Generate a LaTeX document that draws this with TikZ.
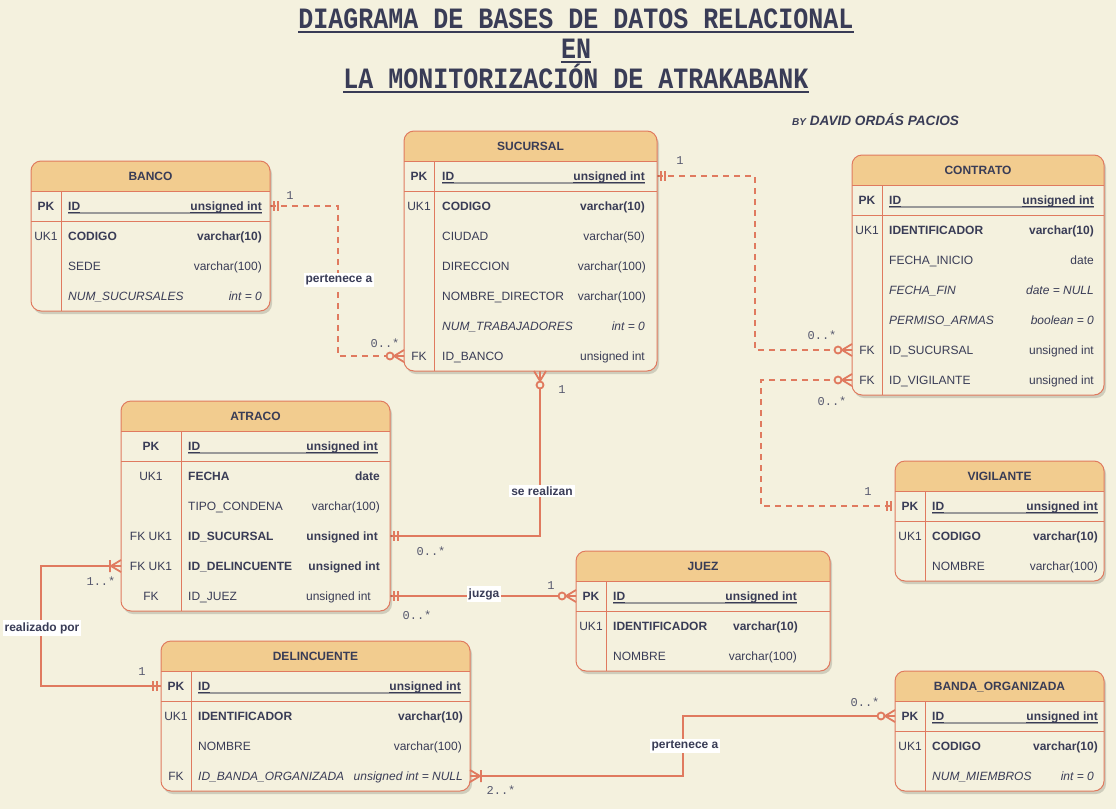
\documentclass[tikz,border=0pt]{standalone}
\usepackage{fontspec}
\setmainfont{Liberation Sans}
\newfontfamily\monof{Liberation Mono}
\usetikzlibrary{calc}
\definecolor{bgc}{HTML}{F4F1DE}
\definecolor{hdrc}{HTML}{F2CC8F}
\definecolor{lc}{HTML}{E07A5F}
\definecolor{txtc}{HTML}{393C56}
\newcommand\rtf{\fontsize{12}{14}\selectfont}
\newcommand\tallt[1]{\scalebox{1}[1.18]{#1}}
\tikzset{
  rt/.style={inner sep=0pt, text=txtc, font=\rtf},
  tline/.style={draw=lc, line width=1pt},
  hdrtext/.style={inner sep=0pt, text=txtc, font=\rtf\bfseries, anchor=base},
  ulgray/.style={draw=gray!80, line width=1.3pt},
  uldark/.style={draw=txtc, line width=0.8pt},
  conn/.style={draw=lc, line width=2pt},
  dconn/.style={conn, dash pattern=on 6pt off 5pt},
  mk/.style={draw=lc, line width=1.8pt},
  elab/.style={fill=white, text=txtc, font=\rtf\bfseries, inner xsep=2pt, inner ysep=2pt},
  card/.style={inner sep=0pt, text=txtc!85, font=\monof\fontsize{12}{14}\selectfont},
  titlet/.style={inner sep=0pt, text=txtc, font=\monof\bfseries\fontsize{25}{30}\selectfont, anchor=base},
}
% table frame: #1 id, #2 L, #3 T, #4 R, #5 rows, #6 divider x, #7 title
\newcommand\ertable[7]{%
  \pgfmathsetmacro\erB{#3+30+30*#5}
  \fill[black, opacity=0.15, rounded corners=10pt] (#2+2,#3+3) rectangle (#4+2,\erB+3);
  \fill[bgc, rounded corners=10pt] (#2,#3) rectangle (#4,\erB);
  \begin{scope}
    \clip[rounded corners=10pt] (#2,#3) rectangle (#4,\erB);
    \fill[hdrc] (#2,#3) rectangle (#4,#3+30);
  \end{scope}
  \draw[tline, rounded corners=10pt] (#2,#3) rectangle (#4,\erB);
  \draw[tline] (#2,#3+30) -- (#4,#3+30);
  \draw[tline] (#2,#3+60) -- (#4,#3+60);
  \draw[tline] (#6,#3+30) -- (#6,\erB);
  \node[hdrtext] (#1) at ({(#2+#4)/2},#3+19.5) {#7};
}
% PK row: #1 id, #2 y, #3 key x, #4 name x, #5 type right x, #6 type
\newcommand\erpk[6]{%
  \node[rt, font=\rtf\bfseries, anchor=base] (#1-k) at (#3,#2+4.5) {PK};
  \node[rt, font=\rtf\bfseries, anchor=base west] (#1-n) at (#4,#2+4.5) {ID};
  \node[rt, font=\rtf\bfseries, anchor=base east] (#1-t) at (#5,#2+4.5) {#6};
  \draw[ulgray] ([yshift=-2.5pt]#1-n.base west) -- ([yshift=-2.5pt]#1-t.base east);
  \draw[uldark] ([yshift=-1.8pt]#1-n.base west) -- ([yshift=-1.8pt]#1-n.base east);
  \draw[uldark] ([yshift=-1.8pt]#1-t.base west) -- ([yshift=-1.8pt]#1-t.base east);
}
% row: #1 id, #2 y, #3 key x, #4 key, #5 name x, #6 name, #7 type right x, #8 type, #9 style
\newcommand\errow[9]{%
  \node[rt, anchor=base] (#1-k) at (#3,#2+4.5) {#4};
  \node[rt, font=\rtf#9, anchor=base west] (#1-n) at (#5,#2+4.5) {#6};
  \node[rt, font=\rtf#9, anchor=base east] (#1-t) at (#7,#2+4.5) {#8};
}
\newcommand\mkOne[2]{\begin{scope}[shift={(#1)},rotate=#2]\draw[mk] (4,-5)--(4,5) (8,-5)--(8,5);\end{scope}}
\newcommand\mkZeroMany[2]{\begin{scope}[shift={(#1)},rotate=#2]\draw[mk] (0,-6)--(10,0)--(0,6) (0,0)--(10,0); \filldraw[mk,fill=bgc] (14,0) circle (3.5);\end{scope}}
\newcommand\mkOneMany[2]{\begin{scope}[shift={(#1)},rotate=#2]\draw[mk] (0,-6)--(10,0)--(0,6) (0,0)--(10,0) (11,-6)--(11,6);\end{scope}}

\begin{document}
\begin{tikzpicture}[x=1pt, y=-1pt]
\fill[bgc] (0,0) rectangle (1116,809);
\useasboundingbox (0,0) rectangle (1116,809);

% ---------- title ----------
\node[titlet] (t1) at (576,28) {\tallt{DIAGRAMA DE BASES DE DATOS RELACIONAL}};
\node[titlet] (t2) at (576,58) {\tallt{EN}};
\node[titlet] (t3) at (576,88) {\tallt{LA MONITORIZACIÓN DE ATRAKABANK}};
\foreach \t in {t1,t2,t3}{
  \draw[txtc, line width=2pt] ([yshift=-4pt]\t.base west) -- ([yshift=-4pt]\t.base east);
}
\node[inner sep=0pt, text=txtc, font=\fontsize{13.6}{15}\selectfont\bfseries\itshape, anchor=base west] (author) at (792,125.5) {{\fontsize{10}{11}\selectfont BY} DAVID ORDÁS PACIOS};

% ---------- connection points ----------
\coordinate (banco-pk-e) at (270,206);
\coordinate (suc-fk-w) at (404,356);
\coordinate (suc-pk-e) at (657,176);
\coordinate (con-fk1-w) at (852,350);
\coordinate (con-fk2-w) at (852,380);
\coordinate (vig-pk-w) at (895,506);
\coordinate (suc-bot) at (540,371);
\coordinate (atr-suc-e) at (390,536);
\coordinate (atr-juez-e) at (390,596);
\coordinate (juez-pk-w) at (576,596);
\coordinate (atr-del-w) at (121,566);
\coordinate (del-pk-w) at (161,686);
\coordinate (del-banda-e) at (470,776);
\coordinate (banda-pk-w) at (895,716);

% ---------- connectors ----------
\draw[dconn] (banco-pk-e) -- ++(68,0) |- (suc-fk-w);
\draw[dconn] (suc-pk-e) -- ++(98,0) |- (con-fk1-w);
\draw[dconn] (con-fk2-w) -- ++(-91,0) |- (vig-pk-w);
\draw[conn] (suc-bot) |- (atr-suc-e);
\draw[conn] (atr-juez-e) -- (juez-pk-w);
\draw[conn] (atr-del-w) -- ++(-80,0) |- (del-pk-w);
\draw[conn] (del-banda-e) -- ++(213,0) |- (banda-pk-w);

% ---------- BANCO ----------
\ertable{banco}{31}{161}{270}{4}{61}{BANCO}
\erpk{banco-r0}{206}{46}{68}{262}{unsigned int}
\errow{banco-r1}{236}{46}{UK1}{68}{CODIGO}{262}{varchar(10)}{\bfseries}
\errow{banco-r2}{266}{46}{}{68}{SEDE}{262}{varchar(100)}{}
\errow{banco-r3}{296}{46}{}{68}{NUM\_SUCURSALES}{262}{int = 0}{\itshape}

% ---------- SUCURSAL ----------
\ertable{sucursal}{404}{131}{657}{7}{434}{SUCURSAL}
\erpk{suc-r0}{176}{419}{442}{645}{unsigned int}
\errow{suc-r1}{206}{419}{UK1}{442}{CODIGO}{645}{varchar(10)}{\bfseries}
\errow{suc-r2}{236}{419}{}{442}{CIUDAD}{645}{varchar(50)}{}
\errow{suc-r3}{266}{419}{}{442}{DIRECCION}{646}{varchar(100)}{}
\errow{suc-r4}{296}{419}{}{442}{NOMBRE\_DIRECTOR}{646}{varchar(100)}{}
\errow{suc-r5}{326}{419}{}{442}{NUM\_TRABAJADORES}{645}{int = 0}{\itshape}
\errow{suc-r6}{356}{419}{FK}{442}{ID\_BANCO}{645}{unsigned int}{}

% ---------- CONTRATO ----------
\ertable{contrato}{852}{155}{1104}{7}{882}{CONTRATO}
\erpk{con-r0}{200}{867}{889}{1094}{unsigned int}
\errow{con-r1}{230}{867}{UK1}{889}{IDENTIFICADOR}{1094}{varchar(10)}{\bfseries}
\errow{con-r2}{260}{867}{}{889}{FECHA\_INICIO}{1094}{date}{}
\errow{con-r3}{290}{867}{}{889}{FECHA\_FIN}{1094}{date = NULL}{\itshape}
\errow{con-r4}{320}{867}{}{889}{PERMISO\_ARMAS}{1094}{boolean = 0}{\itshape}
\errow{con-r5}{350}{867}{FK}{889}{ID\_SUCURSAL}{1094}{unsigned int}{}
\errow{con-r6}{380}{867}{FK}{889}{ID\_VIGILANTE}{1094}{unsigned int}{}

% ---------- ATRACO ----------
\ertable{atraco}{121}{401}{390}{6}{181}{ATRACO}
\erpk{atr-r0}{446}{151}{188}{378}{unsigned int}
\errow{atr-r1}{476}{151}{UK1}{188}{FECHA}{380}{date}{\bfseries}
\errow{atr-r2}{506}{151}{}{188}{TIPO\_CONDENA}{380}{varchar(100)}{}
\errow{atr-r3}{536}{151}{FK UK1}{188}{ID\_SUCURSAL}{378}{unsigned int}{\bfseries}
\errow{atr-r4}{566}{151}{FK UK1}{188}{ID\_DELINCUENTE}{380}{unsigned int}{\bfseries}
\errow{atr-r5}{596}{151}{FK}{188}{ID\_JUEZ}{371}{unsigned int}{}

% ---------- VIGILANTE ----------
\ertable{vigilante}{895}{461}{1104}{3}{925}{VIGILANTE}
\erpk{vig-r0}{506}{910}{932}{1098}{unsigned int}
\errow{vig-r1}{536}{910}{UK1}{932}{CODIGO}{1098}{varchar(10)}{\bfseries}
\errow{vig-r2}{566}{910}{}{932}{NOMBRE}{1098}{varchar(100)}{}

% ---------- JUEZ ----------
\ertable{juez}{576}{551}{830}{3}{606}{JUEZ}
\erpk{juez-r0}{596}{591}{613}{797}{unsigned int}
\errow{juez-r1}{626}{591}{UK1}{613}{IDENTIFICADOR}{798}{varchar(10)}{\bfseries}
\errow{juez-r2}{656}{591}{}{613}{NOMBRE}{797}{varchar(100)}{}

% ---------- DELINCUENTE ----------
\ertable{delincuente}{161}{641}{470}{4}{191}{DELINCUENTE}
\erpk{del-r0}{686}{176}{198}{461}{unsigned int}
\errow{del-r1}{716}{176}{UK1}{198}{IDENTIFICADOR}{463}{varchar(10)}{\bfseries}
\errow{del-r2}{746}{176}{}{198}{NOMBRE}{462}{varchar(100)}{}
\errow{del-r3}{776}{176}{FK}{198}{ID\_BANDA\_ORGANIZADA}{463}{unsigned int = NULL}{\itshape}

% ---------- BANDA_ORGANIZADA ----------
\ertable{banda}{895}{671}{1104}{3}{925}{BANDA\_ORGANIZADA}
\erpk{banda-r0}{716}{910}{932}{1098}{unsigned int}
\errow{banda-r1}{746}{910}{UK1}{932}{CODIGO}{1098}{varchar(10)}{\bfseries}
\errow{banda-r2}{776}{910}{}{932}{NUM\_MIEMBROS}{1094}{int = 0}{\itshape}

% ---------- markers ----------
\mkOne{banco-pk-e}{0}
\mkZeroMany{suc-fk-w}{180}
\mkOne{suc-pk-e}{0}
\mkZeroMany{con-fk1-w}{180}
\mkZeroMany{con-fk2-w}{180}
\mkOne{vig-pk-w}{180}
\mkZeroMany{suc-bot}{-90}
\mkOne{atr-suc-e}{0}
\mkOne{atr-juez-e}{0}
\mkZeroMany{juez-pk-w}{180}
\mkOneMany{atr-del-w}{180}
\mkOne{del-pk-w}{180}
\mkOneMany{del-banda-e}{0}
\mkZeroMany{banda-pk-w}{180}

% ---------- relation labels ----------
\node[elab] (lab-pert1) at (339,280) {pertenece a};
\node[elab] (lab-real) at (542,491) {se realizan};
\node[elab] (lab-juzga) at (484,594) {juzga};
\node[elab] (lab-realpor) at (42,628) {realizado por};
\node[elab] (lab-pert2) at (685,746) {pertenece a};

% ---------- cardinalities ----------
\node[card] (k1) at (290,196) {1};
\node[card] (k2) at (385,343) {0..*};
\node[card] (k3) at (680,161) {1};
\node[card] (k4) at (822,335) {0..*};
\node[card] (k5) at (832,401) {0..*};
\node[card] (k6) at (868,492) {1};
\node[card] (k7) at (562,390) {1};
\node[card] (k8) at (431,551) {0..*};
\node[card] (k9) at (417,615) {0..*};
\node[card] (k10) at (551,586) {1};
\node[card] (k11) at (101,581) {1..*};
\node[card] (k12) at (142,672) {1};
\node[card] (k13) at (501,790) {2..*};
\node[card] (k14) at (865,702) {0..*};
\end{tikzpicture}
\end{document}
